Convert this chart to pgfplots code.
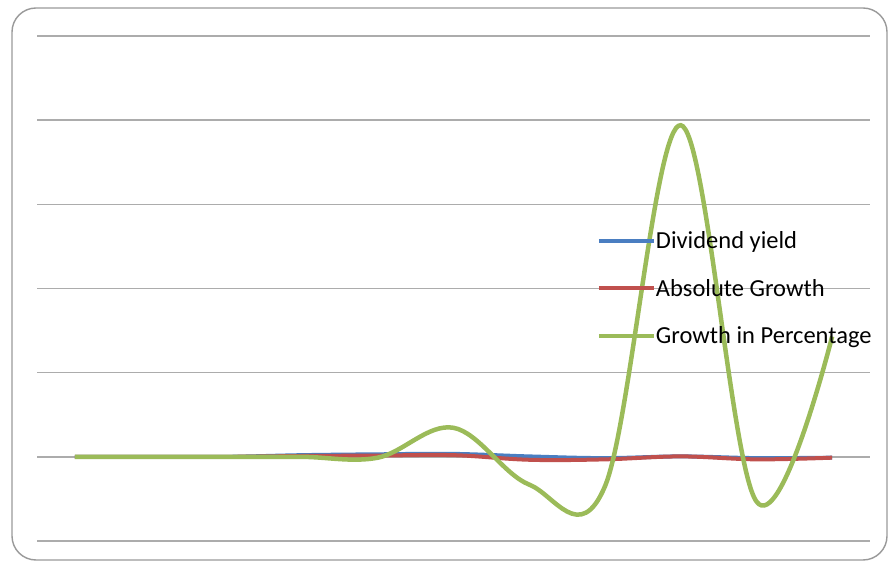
\documentclass[border=0pt]{standalone}
\usepackage{pgfplots}
\pgfplotsset{compat=1.18}
\usepackage{fontspec}
\setmainfont{Carlito}
\definecolor{xblue}{RGB}{74,126,193}
\definecolor{xred}{RGB}{192,80,77}
\definecolor{xgreen}{RGB}{155,187,89}
\begin{document}
\begin{tikzpicture}[x=1pt,y=1pt]
\path[use as bounding box] (0,0) rectangle (888,562);
\draw[gray!80, line width=1.4pt, rounded corners=24pt] (12,2) rectangle (887,554);
\begin{axis}[
  at={(37pt,21pt)}, anchor=south west,
  scale only axis, width=833pt, height=505pt,
  xmin=-0.5, xmax=10.5, ymin=-10, ymax=50,
  axis line style={draw=none},
  xtick=\empty, ytick={-10,0,...,50}, yticklabels={},
  major tick length=0pt,
  ymajorgrids, grid style={gray!65, line width=1.6pt},
  legend cell align=left,
  legend image code/.code={\draw[#1, line width=4pt] (0,0) -- (55pt,0);},
  legend style={draw=none, fill=none, font=\fontsize{24.5}{26}\selectfont,
    at={(0.672,0.617)}, anchor=north west, row sep=25pt,
    inner xsep=0pt, inner ysep=0pt,
    nodes={inner xsep=0pt, inner ysep=2pt}},
]
\addplot[xblue, line width=4pt, smooth, tension=0.6] coordinates {
(0,0) (1,0) (2,0) (3,0.2) (4,0.3) (5,0.35) (6,0.05) (7,-0.15) (8,0.05) (9,-0.15) (10,-0.1)};
\addlegendentry{Dividend yield}
\addplot[xred, line width=4pt, smooth, tension=0.6] coordinates {
(0,0) (1,0) (2,0) (3,0.1) (4,0.15) (5,0.2) (6,-0.35) (7,-0.3) (8,0.05) (9,-0.3) (10,-0.1)};
\addlegendentry{Absolute Growth}
\addplot[xgreen, line width=4.5pt, smooth, tension=0.6] coordinates {
(0,0) (1,0) (2,0) (3,0) (4,-0.1) (5,3.45) (6,-3.3) (7,-3.5) (8,39.4) (9,-5.3) (10,14.3)};
\addlegendentry{Growth in Percentage}
\end{axis}
\end{tikzpicture}
\end{document}
